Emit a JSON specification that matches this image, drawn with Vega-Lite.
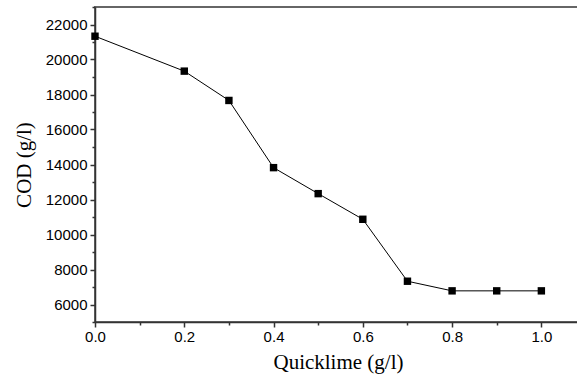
{
  "$schema": "https://vega.github.io/schema/vega-lite/v6.json",
  "autosize": "none",
  "padding": {"left": 95, "top": 7, "right": 0, "bottom": 56},
  "width": 491,
  "height": 315,
  "background": "white",
  "config": {
    "view": {"stroke": "#666666", "strokeWidth": 2},
    "axis": {"grid": false}
  },
  "data": {"values": [
    {"q": 0.0, "cod": 21330},
    {"q": 0.2, "cod": 19335},
    {"q": 0.3, "cod": 17660},
    {"q": 0.4, "cod": 13820},
    {"q": 0.5, "cod": 12335},
    {"q": 0.6, "cod": 10870},
    {"q": 0.7, "cod": 7330},
    {"q": 0.8, "cod": 6780},
    {"q": 0.9, "cod": 6780},
    {"q": 1.0, "cod": 6780}
  ]},
  "encoding": {
    "x": {"field": "q", "type": "quantitative", "scale": {"domain": [0, 1.1], "nice": false, "zero": false},
      "axis": {"orient": "bottom", "values": [0, 0.1, 0.2, 0.3, 0.4, 0.5, 0.6, 0.7, 0.8, 0.9, 1.0, 1.1],
        "labelExpr": "round(datum.value*10) % 2 == 0 ? format(datum.value, '.1f') : ''",
        "labelFlush": false, "labelOverlap": false,
        "title": "Quicklime (g/l)",
        "titleFont": "Liberation Serif", "titleFontSize": 21, "titleFontWeight": "normal", "titleColor": "black",
        "titleX": 243, "titleY": 29, "titleAnchor": "middle", "titleBaseline": "top",
        "labelFont": "Liberation Sans", "labelFontSize": 15, "labelColor": "black", "labelPadding": 2,
        "tickSize": {"condition": {"test": "round(datum.value*10) % 2 == 1", "value": 3}, "value": 5},
        "tickColor": "#333", "tickWidth": 1.5, "domainColor": "#333", "domainWidth": 1.5}},
    "y": {"field": "cod", "type": "quantitative", "scale": {"domain": [5000, 23000], "nice": false, "zero": false},
      "axis": {"orient": "left", "values": [5000, 6000, 7000, 8000, 9000, 10000, 11000, 12000, 13000, 14000, 15000, 16000, 17000, 18000, 19000, 20000, 21000, 22000, 23000],
        "labelExpr": "round(datum.value/1000) % 2 == 0 ? format(datum.value, 'd') : ''",
        "labelFlush": false, "labelOverlap": false,
        "title": "COD (g/l)",
        "titleFont": "Liberation Serif", "titleFontSize": 21, "titleFontWeight": "normal", "titleColor": "black", "titlePadding": 11,
        "labelFont": "Liberation Sans", "labelFontSize": 15, "labelColor": "black", "labelPadding": 3,
        "tickSize": {"condition": {"test": "round(datum.value/1000) % 2 == 1", "value": 3}, "value": 5},
        "tickColor": "#333", "tickWidth": 1.5, "domainColor": "#333", "domainWidth": 1.5}}
  },
  "layer": [
    {"mark": {"type": "line", "color": "black", "strokeWidth": 1}},
    {"mark": {"type": "point", "shape": "square", "filled": true, "color": "black", "size": 55, "opacity": 1}}
  ]
}
